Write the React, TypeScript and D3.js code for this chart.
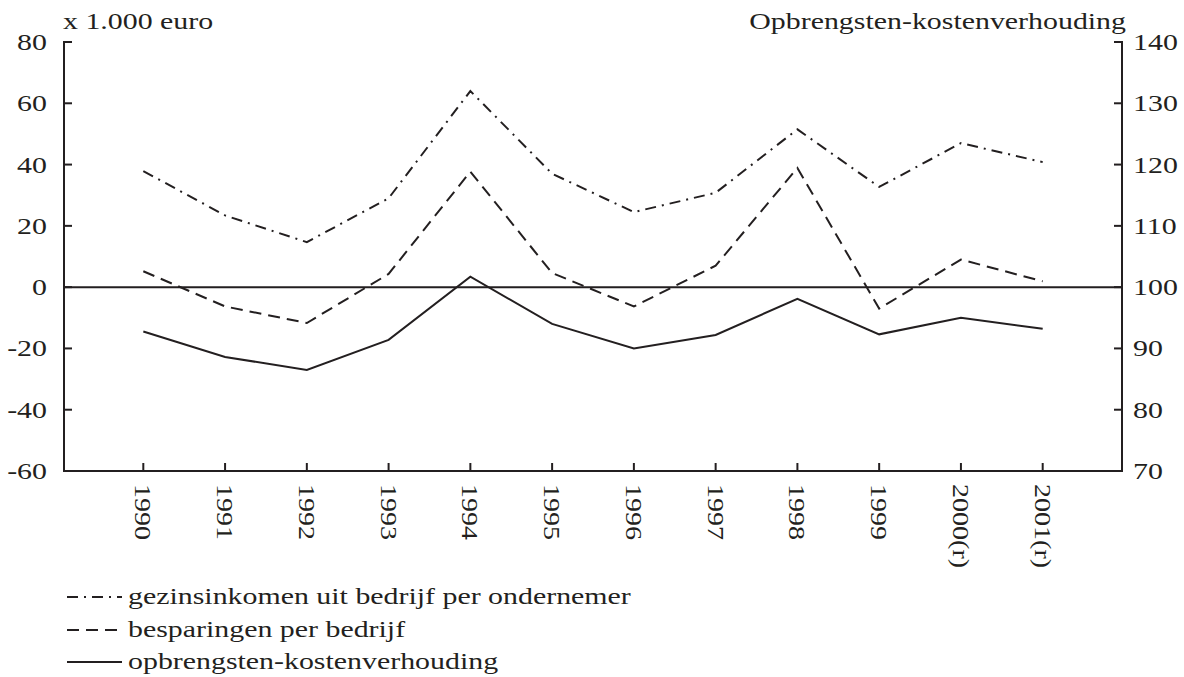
import React from "react";
import * as d3 from "d3";

const years = ["1990","1991","1992","1993","1994","1995","1996","1997","1998","1999","2000(r)","2001(r)"];
const gezinsinkomen = [37.9, 23.4, 14.7, 29, 64, 37, 24.5, 30.8, 51.5, 32.7, 47, 40.8];
const besparingen = [5.2, -6.3, -11.7, 4.3, 37.7, 4.6, -6.3, 7, 38.9, -7, 9, 1.9];
const opbrengsten = [92.75, 88.6, 86.5, 91.4, 101.7, 94, 90, 92.2, 98.1, 92.3, 95, 93.2];
const leftTicks = [-60, -40, -20, 0, 20, 40, 60, 80];
const rightTicks = [70, 80, 90, 100, 110, 120, 130, 140];

const W = 1184, H = 677;
const L = 64, R = 1122, T = 42, B = 471;
const ink = "#231f20";
const font = "'Liberation Serif', 'Times New Roman', serif";
const SX = 1.3;
const FS = 23;

function T_({ x, y, anchor, children, dy }: { x: number; y: number; anchor?: string; children: any; dy?: string }) {
  return (
    <text transform={`translate(${x},${y}) scale(${SX},1)`} dy={dy} fontSize={FS} textAnchor={anchor}>
      {children}
    </text>
  );
}

export default function App() {
  const x = d3.scalePoint<string>().domain(years).range([L, R]).padding(0.97);
  const yL = d3.scaleLinear().domain([-60, 80]).range([B, T]);
  const yR = d3.scaleLinear().domain([70, 140]).range([B, T]);
  const lineL = d3.line<number>().x((_, i) => x(years[i])!).y(d => yL(d));
  const lineR = d3.line<number>().x((_, i) => x(years[i])!).y(d => yR(d));
  const dashDot = "11,6,2,6";
  const dashed = "12,7";
  const legend = [
    { label: "gezinsinkomen uit bedrijf per ondernemer", dash: dashDot, y: 597 },
    { label: "besparingen per bedrijf", dash: dashed, y: 630 },
    { label: "opbrengsten-kostenverhouding", dash: undefined, y: 662 },
  ];
  return (
    <svg width={W} height={H} style={{ position: "absolute", left: 0, top: 0, background: "#fff" }} fontFamily={font} fill={ink}>
      <rect width={W} height={H} fill="#fff" />
      <T_ x={63} y={29}>x 1.000 euro</T_>
      <T_ x={1126} y={29} anchor="end">Opbrengsten-kostenverhouding</T_>
      {/* axes */}
      <line x1={L} x2={L} y1={T - 1} y2={B + 1} stroke={ink} strokeWidth={2} />
      <line x1={R} x2={R} y1={T - 1} y2={B + 1} stroke={ink} strokeWidth={2} />
      <line x1={L - 1} x2={R + 1} y1={B} y2={B} stroke={ink} strokeWidth={2} />
      <line x1={L} x2={R} y1={yL(0)} y2={yL(0)} stroke={ink} strokeWidth={2} />
      {leftTicks.map(t => (
        <g key={"l" + t}>
          <line x1={L} x2={L + 8} y1={yL(t)} y2={yL(t)} stroke={ink} strokeWidth={2} />
          <T_ x={47} y={yL(t)} dy="0.35em" anchor="end">{t}</T_>
        </g>
      ))}
      {rightTicks.map(t => (
        <g key={"r" + t}>
          <line x1={R - 8} x2={R} y1={yR(t)} y2={yR(t)} stroke={ink} strokeWidth={2} />
          <T_ x={1133} y={yR(t)} dy="0.35em">{t}</T_>
        </g>
      ))}
      {years.map(yv => (
        <g key={yv}>
          <line x1={x(yv)} x2={x(yv)} y1={B} y2={B - 8} stroke={ink} strokeWidth={2} />
          <text transform={`translate(${x(yv)},${484}) rotate(90) scale(1.22,1)`} dy="0.35em" fontSize={FS}>{yv}</text>
        </g>
      ))}
      <path d={lineL(gezinsinkomen)!} fill="none" stroke={ink} strokeWidth={2} strokeDasharray={dashDot} />
      <path d={lineL(besparingen)!} fill="none" stroke={ink} strokeWidth={2} strokeDasharray={dashed} />
      <path d={lineR(opbrengsten)!} fill="none" stroke={ink} strokeWidth={2} />
      {legend.map(l => (
        <g key={l.label}>
          <line x1={67} x2={122} y1={l.y} y2={l.y} stroke={ink} strokeWidth={2} strokeDasharray={l.dash} />
          <T_ x={128} y={l.y} dy="0.32em">{l.label}</T_>
        </g>
      ))}
    </svg>
  );
}
